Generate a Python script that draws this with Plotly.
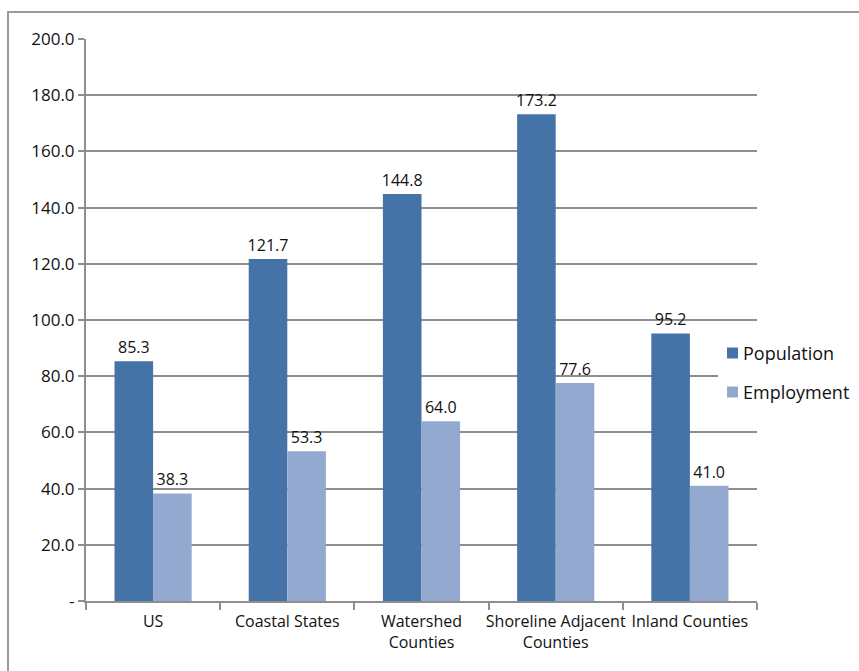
import plotly.graph_objects as go

categories = ["US", "Coastal States", "Watershed<br>Counties",
              "Shoreline Adjacent<br>Counties", "Inland Counties"]
population = [85.3, 121.7, 144.8, 173.2, 95.2]
employment = [38.3, 53.3, 64.0, 77.6, 41.0]
y_ticks = [0, 20, 40, 60, 80, 100, 120, 140, 160, 180, 200]
y_tick_text = ["-", "20.0", "40.0", "60.0", "80.0", "100.0", "120.0",
               "140.0", "160.0", "180.0", "200.0"]
series_names = ["Population", "Employment"]
series_colors = ["#4573a8", "#94a9d0"]

W, H = 859, 671
L, R, T, B = 86, 102, 39, 70
pw, ph = W - L - R, H - T - B


def px(x):
    return (x - L) / pw


def py(y):
    return (H - B - y) / ph


font_family = "Open Sans, Noto Sans, sans-serif"
grid_col = "#8e8e8e"

fig = go.Figure()
for name, vals, col in zip(series_names, [population, employment], series_colors):
    fig.add_trace(go.Bar(
        name=name, x=categories, y=vals,
        marker=dict(color=col, line=dict(width=0)),
        text=[f"{v:.1f}" for v in vals], textposition="outside",
        constraintext="none",
        textfont=dict(size=16, color="#111111"), cliponaxis=False,
        showlegend=False,
    ))

# outer chart frame (runs off the right and bottom edges)
fig.add_shape(type="rect", xref="paper", yref="paper",
              x0=px(8), x1=px(W + 20), y0=py(H + 20), y1=py(12),
              line=dict(color="#9a9a9a", width=2), fillcolor="rgba(0,0,0,0)",
              layer="below")

# legend box drawn over the gridlines
fig.add_shape(type="rect", xref="paper", yref="paper",
              x0=px(718), x1=px(W + 5), y0=py(412), y1=py(334),
              line=dict(width=0), fillcolor="white", layer="above")
for i, (name, col) in enumerate(zip(series_names, series_colors)):
    cy = 353 + 39 * i
    fig.add_shape(type="rect", xref="paper", yref="paper",
                  x0=px(727), x1=px(738), y0=py(cy + 5.5), y1=py(cy - 5.5),
                  line=dict(width=0), fillcolor=col, layer="above")
    fig.add_annotation(text=name, xref="paper", yref="paper",
                       x=px(741), y=py(cy), xanchor="left", yanchor="middle",
                       showarrow=False, font=dict(size=18, color="#111111"))

fig.update_layout(
    width=W, height=H,
    margin=dict(l=L, r=R, t=T, b=B, autoexpand=False),
    paper_bgcolor="white", plot_bgcolor="white",
    font=dict(family=font_family, size=16, color="#111111"),
    barmode="group", bargap=0.425, bargroupgap=0,
    showlegend=False,
    xaxis=dict(showgrid=False, showline=True, linecolor=grid_col, linewidth=2,
               ticks="outside", tickson="boundaries", ticklen=7,
               tickcolor=grid_col, tickwidth=2, tickangle=0, automargin=False,
               ticklabelstandoff=5,
               tickfont=dict(size=16), range=[-0.5, 4.5]),
    yaxis=dict(range=[0, 200], tickvals=y_ticks, ticktext=y_tick_text,
               showgrid=True, gridcolor=grid_col, gridwidth=2,
               showline=True, linecolor=grid_col, linewidth=2,
               ticks="outside", ticklen=6, tickcolor=grid_col, tickwidth=2,
               tickfont=dict(size=17), zeroline=False, automargin=False),
)

fig.write_html("out.html")
